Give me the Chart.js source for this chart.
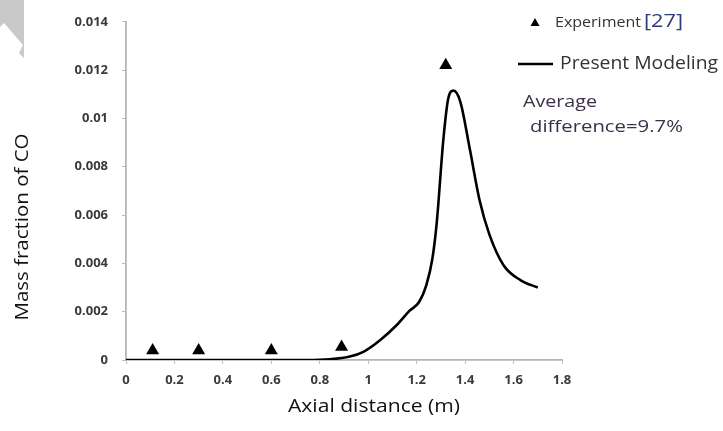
<!DOCTYPE html>
<html><head><meta charset="utf-8">
<script src="https://cdn.jsdelivr.net/npm/chart.js@4/dist/chart.umd.min.js"></script>
<style>html,body{margin:0;padding:0;background:#fff;}#wrap{width:723px;height:431px;position:relative;}</style>
</head><body><div id="wrap"><canvas id="c" width="723" height="431"></canvas></div>
<script>
const xTicks = [0,0.2,0.4,0.6,0.8,1,1.2,1.4,1.6,1.8];
const yTicks = [0,0.002,0.004,0.006,0.008,0.01,0.012,0.014];
const modelX = [0,0.2,0.4,0.6,0.75,0.84,0.92,0.98,1.05,1.12,1.17,1.21,1.24,1.265,1.283,1.31,1.33,1.352,1.38,1.42,1.46,1.5,1.56,1.63,1.7];
const modelY = [0,0,0,0,0,0.00003,0.00013,0.00034,0.00083,0.00147,0.00203,0.0024,0.0031,0.0042,0.0057,0.0091,0.0108,0.01115,0.0107,0.0087,0.0066,0.0052,0.0039,0.0033,0.003];
const expX = [0.11,0.30,0.60,0.89,1.32];
const expY = [0.00039,0.00039,0.00039,0.00054,0.0122];
const seriesNames = ['Experiment', 'Present Modeling'];

const FONT = '"Open Sans", "DejaVu Sans", sans-serif';

function fitText(c, txt, x, y, targetW, align){
  const w = c.measureText(txt).width;
  const s = targetW / w;
  c.save();
  c.translate(x, y);
  c.scale(s, 1);
  c.textAlign = 'left';
  const ox = align === 'center' ? -w/2 : 0;
  c.fillText(txt, ox, 0);
  c.restore();
}

const decor = {
  id:'decor',
  beforeDraw(chart){
    const c = chart.ctx;
    c.save();
    c.fillStyle = '#c9c9c9';
    c.beginPath();
    c.moveTo(0,0); c.lineTo(24,0); c.lineTo(24,58); c.lineTo(19,53); c.lineTo(23,45);
    c.lineTo(4,23); c.lineTo(0,27); c.closePath(); c.fill();
    c.restore();
  },
  afterDraw(chart){
    const c = chart.ctx;
    c.save();
    c.fillStyle = '#111';
    c.font = '19px ' + FONT;
    c.textBaseline = 'middle';
    fitText(c, 'Axial distance (m)', 374, 407, 172, 'center');
    c.save();
    c.translate(23, 227); c.rotate(-Math.PI/2);
    fitText(c, 'Mass fraction of CO', 0, 0, 187, 'center');
    c.restore();
    // legend
    c.fillStyle = '#000';
    c.beginPath(); c.moveTo(535,18); c.lineTo(539.5,26); c.lineTo(530.5,26); c.closePath(); c.fill();
    c.textBaseline='middle';
    c.font = '15px ' + FONT; c.fillStyle = '#333';
    fitText(c, seriesNames[0], 555, 23, 86, 'left');
    c.font = '18px ' + FONT; c.fillStyle = '#2a3a7a';
    fitText(c, '[27]', 644, 22, 39, 'left');
    c.strokeStyle = '#000'; c.lineWidth = 2.4;
    c.beginPath(); c.moveTo(518,64); c.lineTo(553,64); c.stroke();
    c.font = '18px ' + FONT; c.fillStyle = '#333';
    fitText(c, seriesNames[1], 560, 64, 158, 'left');
    // annotation
    c.font = '17px ' + FONT; c.fillStyle = '#3a3048';
    fitText(c, 'Average', 523, 102, 74, 'left');
    fitText(c, 'difference=9.7%', 530, 127, 153, 'left');
    c.restore();
  }
};

new Chart(document.getElementById('c'), {
  type:'scatter',
  data:{
    datasets:[
      {label:seriesNames[1], type:'line', data:modelX.map((x,i)=>({x, y:modelY[i]})),
       borderColor:'#000', borderWidth:2.6, pointRadius:0, fill:false,
       cubicInterpolationMode:'monotone'},
      {label:seriesNames[0], data:expX.map((x,i)=>({x, y:expY[i]})),
       pointStyle:'triangle', pointRadius:7.5, backgroundColor:'#000', borderColor:'#000', borderWidth:0}
    ]
  },
  options:{
    responsive:false, animation:false,
    layout:{padding:{left:0, right:161, top:21, bottom:0}},
    plugins:{legend:{display:false}, tooltip:{enabled:false}},
    scales:{
      x:{type:'linear', min:0, max:1.8,
         afterBuildTicks(s){ s.ticks = xTicks.map(v=>({value:v})); },
         afterFit(s){ s.height = 71; },
         border:{color:'#b5b5b5', width:1.8},
         grid:{drawOnChartArea:false, drawTicks:true, tickLength:4, color:'#c0c0c0'},
         ticks:{padding:8, color:'#3a3a3a', font:{family:FONT, size:13, weight:'bold'}, maxRotation:0,
                callback:(v)=>String(v)}},
      y:{type:'linear', min:0, max:0.014,
         afterBuildTicks(s){ s.ticks = yTicks.map(v=>({value:v})); },
         afterFit(s){ s.width = 126; },
         border:{color:'#b5b5b5', width:1.8},
         grid:{drawOnChartArea:false, drawTicks:true, tickLength:4, color:'#c0c0c0'},
         ticks:{padding:14, color:'#3a3a3a', font:{family:FONT, size:13, weight:'bold'},
                callback:(v)=>String(parseFloat(v.toFixed(3)))}}
    }
  },
  plugins:[decor]
});
</script></body></html>
